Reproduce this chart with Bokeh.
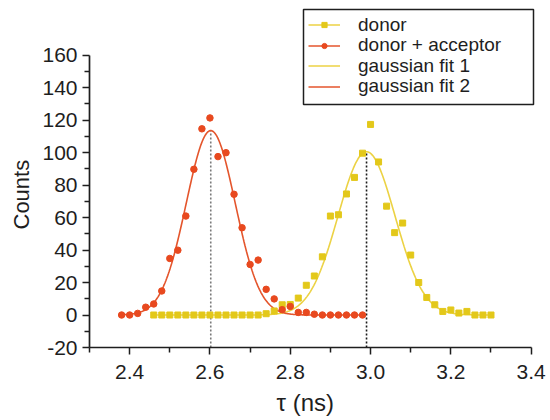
import numpy as np
from bokeh.plotting import figure
from bokeh.models import (Range1d, FixedTicker, PrintfTickFormatter, Legend, LegendItem,
                          Title, BoxAnnotation)
from bokeh.embed import file_html
from bokeh.resources import INLINE

# ---- data ----
donor_tau = [2.46, 2.48, 2.50, 2.52, 2.54, 2.56, 2.58, 2.60, 2.62, 2.64, 2.66, 2.68, 2.70,
             2.72, 2.74, 2.76, 2.78, 2.80, 2.82, 2.84, 2.86, 2.88, 2.90, 2.92, 2.94, 2.96,
             2.98, 3.00, 3.02, 3.04, 3.06, 3.08, 3.10, 3.12, 3.14, 3.16, 3.18, 3.20, 3.22,
             3.24, 3.26, 3.28, 3.30]
donor_counts = [0, 0, 0, 0, 0, 0, 0, 0, 0, 0, 0, 0, 0,
                0, 0.8, 2.5, 6.3, 6.5, 10.4, 18.3, 24.0, 35.8, 60.9, 61.7, 74.5, 84.7,
                99.6, 117.3, 94.2, 67.0, 50.7, 56.6, 36.9, 20.0, 10.8, 6.3, 2.2, 3.1, 1.2,
                2.2, 0, 0, 0]

da_tau = [2.38, 2.40, 2.42, 2.44, 2.46, 2.48, 2.50, 2.52, 2.54, 2.56, 2.58, 2.60, 2.62,
          2.64, 2.66, 2.68, 2.70, 2.72, 2.74, 2.76, 2.78, 2.80, 2.82, 2.84, 2.86, 2.88,
          2.90, 2.92, 2.94, 2.96, 2.98]
da_counts = [0, 0, 1.0, 4.8, 6.8, 14.8, 34.8, 39.9, 60.9, 89.7, 114.6, 121.3, 97.5,
             99.9, 74.3, 53.7, 31.1, 33.8, 15.8, 9.9, 3.3, 5.3, 1.6, 1.6, 0.5, 0,
             0, 0, 0, 0, 0]

# gaussian fit parameters (amplitude, centre, sigma)
fit1_amp, fit1_center, fit1_sigma = 100.5, 2.990, 0.071
fit2_amp, fit2_center, fit2_sigma = 113.5, 2.602, 0.061

x_ticks = [2.4, 2.6, 2.8, 3.0, 3.2, 3.4]
x_minor = [2.3, 2.5, 2.7, 2.9, 3.1, 3.3]
y_ticks = [-20, 0, 20, 40, 60, 80, 100, 120, 140, 160]
y_minor = [-10, 10, 30, 50, 70, 90, 110, 130, 150]

legend_labels = ["donor", "donor + acceptor", "gaussian fit 1", "gaussian fit 2"]

YELLOW_PT = "#e3c81a"
YELLOW_LN = "#ecd244"
RED_PT = "#e8491f"
RED_LN = "#e4552c"
FONT = "Liberation Sans"
TXT = "#1e1e1e"

fit1_x = np.linspace(donor_tau[0], donor_tau[-1], 300)
fit1_y = fit1_amp * np.exp(-(fit1_x - fit1_center) ** 2 / (2 * fit1_sigma ** 2))
fit2_x = np.linspace(da_tau[0], da_tau[-1], 300)
fit2_y = fit2_amp * np.exp(-(fit2_x - fit2_center) ** 2 / (2 * fit2_sigma ** 2))

# frame reaches up to the top so the legend (which overlaps the top) is not clipped
p = figure(width=550, height=420, output_backend="svg", toolbar_location=None,
           x_range=Range1d(2.3, 3.4233), y_range=Range1d(-20, 190.5),
           min_border_left=89, min_border_right=10, min_border_top=5, min_border_bottom=70)
p.outline_line_color = None
p.xgrid.visible = False
p.ygrid.visible = False
p.background_fill_color = "white"
p.border_fill_color = "white"

# dashed centre markers
p.segment(x0=[fit2_center], y0=[-20], x1=[fit2_center], y1=[fit2_amp],
          line_color="#7a7a7a", line_width=1.6, line_dash="2 2")
p.segment(x0=[fit1_center], y0=[-20], x1=[fit1_center], y1=[fit1_amp],
          line_color="#1a1a1a", line_width=1.6, line_dash="2 2")

f1 = p.line(fit1_x, fit1_y, line_color=YELLOW_LN, line_width=1.6)
f2 = p.line(fit2_x, fit2_y, line_color=RED_LN, line_width=1.6)

d_pts = p.scatter(donor_tau, donor_counts, marker="square", size=6,
                  fill_color=YELLOW_PT, line_color=YELLOW_PT)
da_pts = p.scatter(da_tau, da_counts, marker="circle", size=6.5,
                   fill_color=RED_PT, line_color=RED_PT)

# axes
for ax in (p.xaxis[0], p.yaxis[0]):
    ax.axis_line_width = 1.7
    ax.axis_line_color = "#1e1e1e"
    ax.major_tick_line_color = "#1e1e1e"
    ax.minor_tick_line_color = "#1e1e1e"
    ax.major_tick_line_width = 1.5
    ax.minor_tick_line_width = 1.5
    ax.major_tick_in = 0
    ax.major_tick_out = 7
    ax.minor_tick_in = 0
    ax.minor_tick_out = 5
    ax.major_label_text_font = FONT
    ax.major_label_text_font_size = "21px"
    ax.major_label_text_color = TXT

p.xaxis.ticker = FixedTicker(ticks=x_ticks, minor_ticks=x_minor)
p.xaxis.formatter = PrintfTickFormatter(format="%.1f")
p.xaxis.major_label_standoff = 10
p.xaxis.bounds = (2.3, 3.4)

p.yaxis.ticker = FixedTicker(ticks=y_ticks, minor_ticks=y_minor)
p.yaxis.formatter = PrintfTickFormatter(format="%d")
p.yaxis.major_label_standoff = 5
p.yaxis.bounds = (-20, 160)

xlab = Title(text="τ (ns)", align="left", text_font=FONT, text_font_size="24px",
             text_font_style="normal", text_color=TXT, standoff=10, offset=187)
p.add_layout(xlab, "below")
ylab = Title(text="Counts", align="left", text_font=FONT, text_font_size="22px",
             text_font_style="normal", text_color=TXT, standoff=12, offset=118)
p.add_layout(ylab, "left")

# legend frame
box = BoxAnnotation(left=214, right=444, bottom=243, top=338,
                    left_units="screen", right_units="screen",
                    top_units="screen", bottom_units="screen",
                    fill_color="white", fill_alpha=1.0,
                    line_color="#1e1e1e", line_width=1.5, line_alpha=1.0)
p.add_layout(box)

# one single-row legend per entry so that rows sit about 21 px apart as in the reference
ROW_H = 34
row_renderers = [[f1, d_pts], [f2, da_pts], [f1], [f2]]
row_centres = [27.5, 48.0, 68.5, 89.0]   # canvas px from top
frame_bottom = 350
for lab, rends, c in zip(legend_labels, row_renderers, row_centres):
    lg = Legend(items=[LegendItem(label=lab, renderers=rends)],
                location=(219, frame_bottom - c - ROW_H / 2))
    lg.border_line_color = None
    lg.background_fill_alpha = 0.0
    lg.padding = 0
    lg.spacing = 0
    lg.margin = 0
    lg.glyph_width = 32
    lg.glyph_height = 13
    lg.label_height = ROW_H
    lg.label_standoff = 18
    lg.label_text_font = FONT
    lg.label_text_font_size = "19px"
    lg.label_text_color = TXT
    p.add_layout(lg)

open("out.html", "w").write(file_html(p, INLINE))
